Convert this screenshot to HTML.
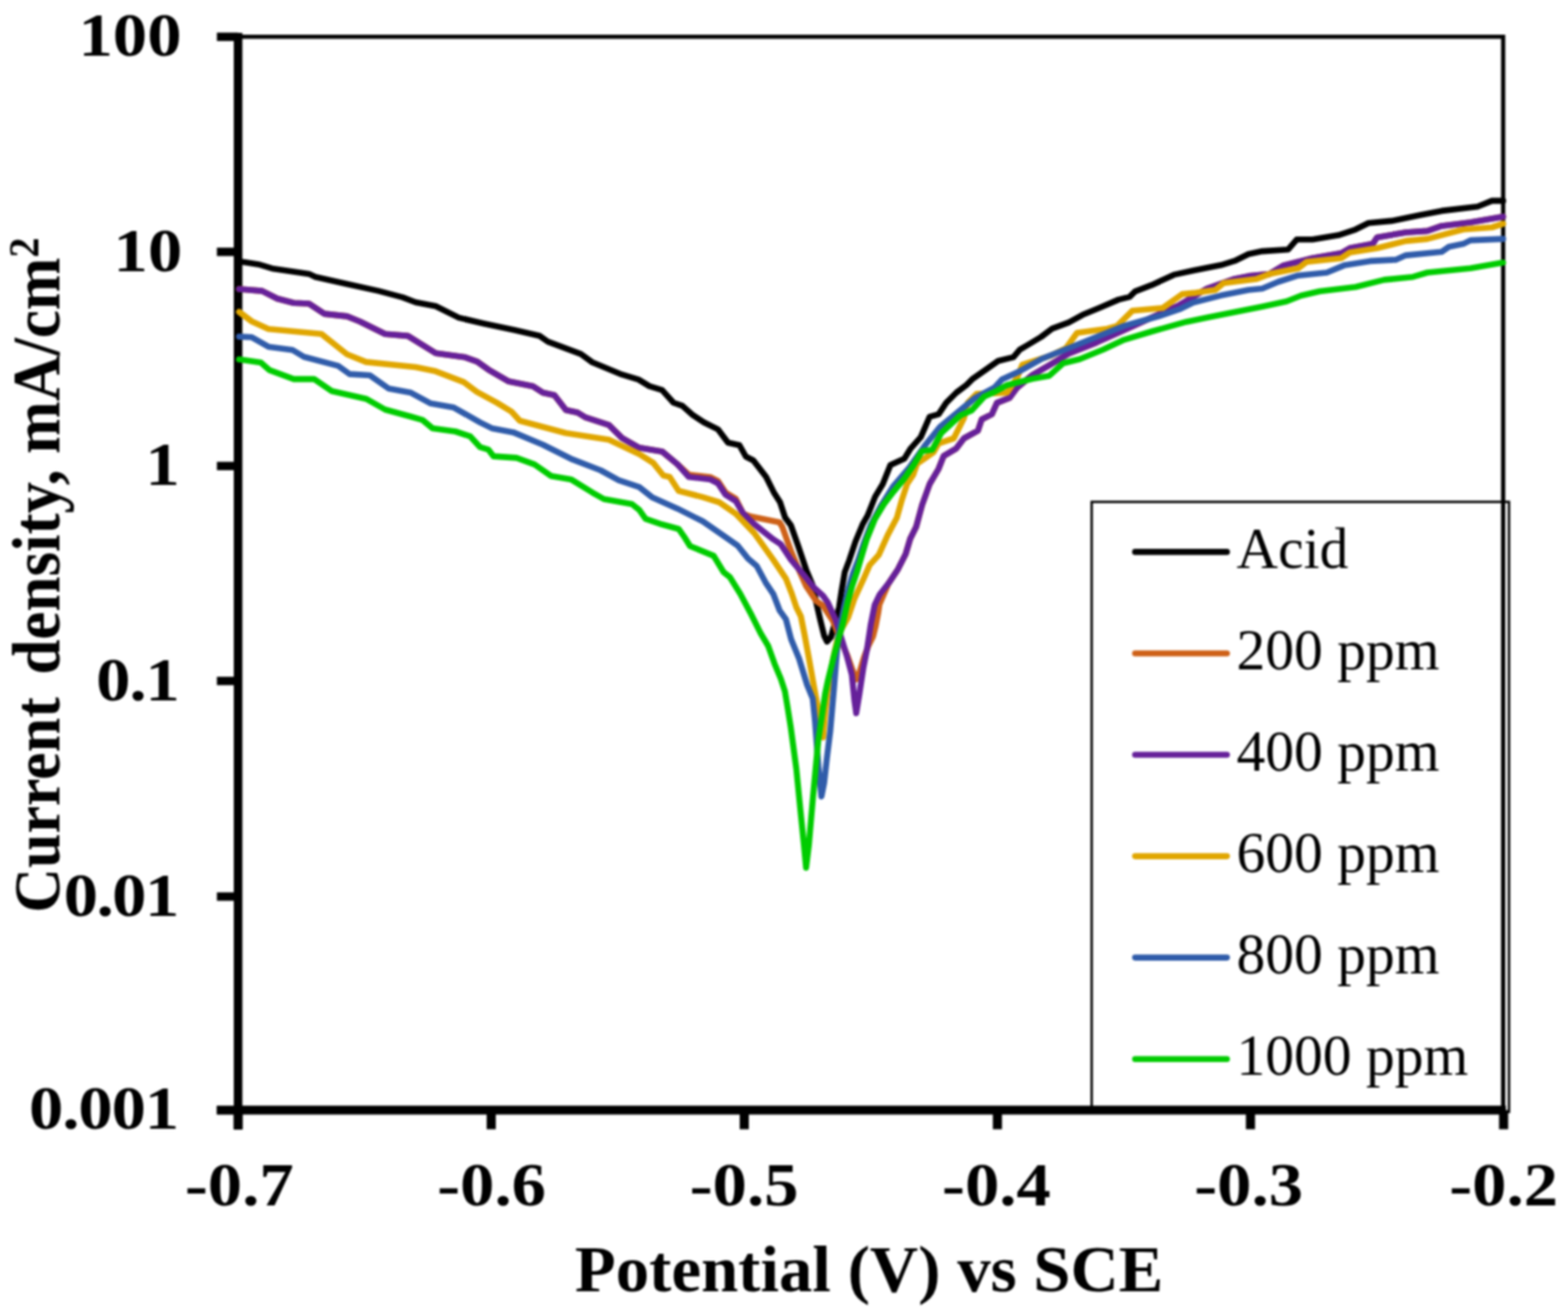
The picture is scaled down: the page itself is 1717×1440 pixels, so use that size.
<!DOCTYPE html><html><head><meta charset="utf-8"><title>Current density vs Potential</title><style>html,body{margin:0;padding:0;background:#fff;}svg{display:block;filter:blur(0.8px);}</style></head><body>
<svg width="1717" height="1440" viewBox="0 0 1717 1440">
<rect x="0" y="0" width="1717" height="1440" fill="#fff"/>
<path d="M260.7,40.3 H1646.0 V1215.6" fill="none" stroke="#000" stroke-width="4.6"/>
<line x1="260.7" y1="36" x2="260.7" y2="1237" stroke="#000" stroke-width="9.4"/>
<line x1="237.5" y1="1215.6" x2="1649" y2="1215.6" stroke="#000" stroke-width="9.6"/>
<line x1="237.5" y1="40.3" x2="260.7" y2="40.3" stroke="#000" stroke-width="9.2"/>
<line x1="237.5" y1="275.8" x2="260.7" y2="275.8" stroke="#000" stroke-width="9.2"/>
<line x1="237.5" y1="510.3" x2="260.7" y2="510.3" stroke="#000" stroke-width="9.2"/>
<line x1="237.5" y1="745.7" x2="260.7" y2="745.7" stroke="#000" stroke-width="9.2"/>
<line x1="237.5" y1="981.8" x2="260.7" y2="981.8" stroke="#000" stroke-width="9.2"/>
<line x1="237.5" y1="1215.6" x2="260.7" y2="1215.6" stroke="#000" stroke-width="9.2"/>
<line x1="260.7" y1="1215.6" x2="260.7" y2="1236.6" stroke="#000" stroke-width="10"/>
<line x1="537.9" y1="1215.6" x2="537.9" y2="1236.6" stroke="#000" stroke-width="10"/>
<line x1="815.0" y1="1215.6" x2="815.0" y2="1236.6" stroke="#000" stroke-width="10"/>
<line x1="1092.2" y1="1215.6" x2="1092.2" y2="1236.6" stroke="#000" stroke-width="10"/>
<line x1="1369.3" y1="1215.6" x2="1369.3" y2="1236.6" stroke="#000" stroke-width="10"/>
<line x1="1646.5" y1="1215.6" x2="1646.5" y2="1236.6" stroke="#000" stroke-width="10"/>
<g fill="none" stroke-linejoin="round" stroke-linecap="round">
<polyline stroke="#000000" stroke-width="6.6" points="261.8,286.0 265.4,286.7 282.8,289.4 299.4,294.3 338.3,299.9 345.3,303.3 380.0,311.0 414.7,318.6 441.0,325.6 455.0,331.0 477.1,335.3 502.4,347.9 529.4,354.2 563.8,361.5 590.8,367.8 599.9,374.1 636.0,387.6 648.6,396.7 681.1,410.2 699.2,415.6 711.1,422.9 725.0,427.1 737.5,441.0 747.2,444.4 758.3,454.2 770.8,462.5 786.1,470.1 797.2,484.7 809.7,487.5 816.7,500.0 825.0,504.2 838.9,522.2 847.2,538.9 854.2,550.0 859.7,566.7 866.1,575.3 874.4,598.9 882.8,623.9 889.7,640.6 893.9,660.0 898.0,678.0 902.5,696.3 905.6,702.5 910.0,697.5 913.8,683.8 918.8,665.0 921.7,646.1 925.0,626.7 930.0,613.3 936.7,593.3 945.0,573.3 950.0,564.7 958.3,543.9 966.7,530.0 975.0,509.2 990.3,502.2 997.2,491.1 1008.3,478.6 1018.0,456.4 1027.8,453.6 1036.1,441.1 1047.2,430.0 1058.3,421.7 1065.3,414.7 1079.2,405.0 1093.0,395.3 1109.7,391.1 1116.7,382.8 1125.0,378.0 1140.0,369.0 1152.1,359.9 1170.3,353.1 1185.4,344.8 1203.6,337.2 1224.8,328.1 1236.9,325.1 1243.0,319.1 1261.1,312.2 1285.4,300.9 1306.6,296.3 1321.7,293.3 1336.9,290.3 1352.0,285.7 1367.1,278.2 1382.3,275.1 1410.4,273.3 1419.9,262.3 1437.2,262.3 1465.5,257.6 1484.4,251.3 1498.5,244.3 1523.7,241.9 1555.1,235.6 1578.7,230.9 1618.0,226.2 1633.7,219.9 1646.0,219.9"/>
<polyline stroke="#CE6118" stroke-width="6.6" points="261.8,316.5 287.0,318.6 303.6,327.0 321.7,331.8 338.3,332.5 355.0,343.6 380.0,346.4 393.9,352.0 421.7,365.8 446.7,367.9 477.1,386.7 509.6,391.3 522.2,395.8 534.9,404.8 556.5,417.4 583.6,422.9 594.5,430.1 607.1,432.8 619.7,449.0 632.4,451.7 641.4,457.2 666.7,465.3 681.1,479.7 700.0,490.3 725.0,494.4 741.7,508.3 754.2,519.7 777.8,522.5 786.1,526.7 794.4,539.2 805.6,546.1 813.9,562.5 821.7,565.6 853.6,572.0 856.5,576.7 866.5,604.4 876.0,626.7 882.8,641.9 893.9,658.3 901.0,663.0 912.0,680.0 920.0,700.0 928.0,718.0 934.0,735.0 937.6,744.0 941.0,737.0 946.0,720.0 951.0,707.0 956.0,697.0 959.0,685.0 961.5,672.0 963.0,662.0 973.3,638.3 983.3,623.3 991.7,606.7 996.7,590.0 1003.3,576.7 1009.7,553.0 1018.0,530.0 1027.8,513.3 1033.3,499.4 1047.2,491.1 1055.6,480.0 1070.8,471.7 1075.0,459.2 1086.1,453.6 1091.7,441.1 1105.6,435.6 1113.9,424.4 1130.6,410.6 1150.0,399.4 1170.3,387.2 1200.6,375.1 1230.9,361.5 1261.1,347.8 1291.4,334.2 1321.7,316.0 1352.0,305.4 1367.1,302.4 1390.0,300.1 1405.7,290.6 1437.2,282.8 1468.6,277.3 1478.1,271.8 1503.2,267.1 1507.9,260.0 1539.4,254.5 1563.0,252.9 1578.7,247.4 1610.2,243.5 1646.0,237.2"/>
<polyline stroke="#66209A" stroke-width="6.6" points="261.8,316.5 287.0,318.6 303.6,327.0 321.7,331.8 338.3,332.5 355.0,343.6 380.0,346.4 393.9,352.0 421.7,365.8 446.7,367.9 477.1,386.7 509.6,391.3 522.2,395.8 534.9,404.8 556.5,417.4 583.6,422.9 594.5,430.1 607.1,432.8 619.7,449.0 632.4,451.7 641.4,457.2 666.7,465.3 681.1,479.7 700.0,490.3 725.0,494.4 741.7,508.3 754.2,522.2 777.8,525.0 786.1,529.2 794.4,541.7 805.6,548.6 813.9,562.5 825.8,573.9 846.7,590.6 855.0,596.1 866.1,612.8 880.0,629.4 891.1,643.3 901.3,652.5 906.4,659.7 914.7,677.8 921.7,700.0 927.2,718.0 932.8,738.9 935.6,766.7 937.6,781.0 941.1,759.7 945.3,731.9 949.4,711.0 953.6,683.3 957.8,662.5 963.3,651.0 973.3,638.3 983.3,623.3 991.7,606.7 996.7,590.0 1003.3,576.7 1009.7,553.0 1018.0,530.0 1027.8,513.3 1033.3,499.4 1047.2,491.1 1055.6,480.0 1070.8,471.7 1075.0,459.2 1086.1,453.6 1091.7,441.1 1105.6,435.6 1113.9,424.4 1130.6,410.6 1150.0,399.4 1170.3,387.2 1200.6,375.1 1230.9,361.5 1261.1,347.8 1291.4,334.2 1321.7,316.0 1352.0,305.4 1367.1,302.4 1390.0,300.1 1405.7,290.6 1437.2,282.8 1468.6,277.3 1478.1,271.8 1503.2,267.1 1507.9,260.0 1539.4,254.5 1563.0,252.9 1578.7,247.4 1610.2,243.5 1646.0,237.2"/>
<polyline stroke="#E0A600" stroke-width="6.6" points="261.8,341.5 275.8,352.0 293.9,360.3 352.2,365.8 380.0,388.0 400.8,396.4 455.0,402.0 477.1,406.6 507.8,418.3 522.2,429.2 543.9,440.9 560.1,450.8 569.2,460.8 619.7,474.3 666.7,481.5 700.0,497.2 715.3,506.9 726.4,520.8 733.3,522.2 743.1,537.5 769.4,544.4 787.5,550.0 805.6,562.5 825.8,583.6 846.7,612.8 860.6,633.6 867.0,650.0 872.0,665.0 877.0,675.0 881.0,695.0 886.0,722.0 891.0,750.0 895.0,772.0 898.0,795.0 901.3,807.5 903.6,780.0 906.0,760.0 909.0,740.0 912.5,720.0 917.0,700.0 922.0,688.0 928.6,676.4 935.6,655.6 945.3,634.7 952.2,618.9 962.2,607.8 972.2,585.6 982.2,566.7 987.8,546.7 993.3,530.0 1000.0,520.0 1004.2,507.8 1022.2,495.3 1027.8,485.6 1044.4,480.0 1055.6,457.8 1059.7,441.1 1069.4,431.4 1102.8,430.0 1113.9,413.3 1119.4,399.4 1150.0,389.7 1167.3,381.1 1179.4,364.5 1212.7,359.9 1223.3,356.9 1239.9,340.3 1273.3,337.2 1294.5,322.1 1309.6,320.6 1330.8,317.5 1339.9,310.0 1376.2,305.4 1390.0,300.1 1421.5,293.8 1430.9,286.7 1468.6,282.8 1478.1,276.5 1507.9,271.8 1539.4,263.9 1563.0,261.6 1602.3,251.3 1633.7,249.0 1646.0,245.0"/>
<polyline stroke="#305CAA" stroke-width="6.6" points="261.8,368.6 275.8,369.3 293.9,379.7 320.3,383.2 332.8,390.8 370.3,400.6 382.8,409.6 405.0,411.0 425.8,425.6 450.0,430.1 471.7,441.8 497.0,446.3 525.8,462.6 538.5,468.9 562.0,473.4 594.5,487.0 612.5,496.0 627.0,503.2 657.7,515.0 677.5,525.8 700.0,533.3 713.9,544.4 741.7,556.9 769.4,570.8 793.9,587.8 807.8,597.5 818.9,611.4 828.6,619.7 838.3,637.8 846.7,650.3 853.6,668.3 860.6,678.1 866.3,700.0 875.0,721.3 883.8,750.0 890.0,765.0 892.5,790.0 896.4,841.7 899.5,872.2 902.5,857.0 905.5,830.0 909.2,800.0 913.3,752.8 915.5,725.0 918.0,697.0 920.5,683.0 924.5,664.0 929.0,645.0 934.0,628.0 939.5,614.0 945.5,596.0 953.5,575.0 964.0,555.0 977.8,533.0 995.8,512.0 1012.5,488.3 1029.2,467.5 1052.8,448.1 1068.0,435.6 1088.9,424.4 1097.2,415.4 1116.7,406.4 1140.0,393.3 1162.7,384.2 1200.6,369.0 1230.9,356.9 1268.7,346.3 1291.4,338.7 1306.6,331.2 1336.9,323.6 1367.1,317.5 1382.3,316.0 1400.0,308.5 1421.5,301.7 1452.9,298.5 1471.8,290.6 1500.1,285.9 1528.4,284.4 1539.4,279.6 1578.7,275.7 1586.6,270.2 1602.3,267.1 1610.2,263.1 1646.0,261.6"/>
<polyline stroke="#00CC00" stroke-width="6.6" points="261.8,393.6 285.6,397.0 295.3,405.4 321.7,415.1 343.9,415.1 363.3,428.3 400.8,436.7 421.7,448.5 450.0,456.3 462.6,459.9 473.5,468.9 498.8,472.5 515.0,477.9 525.8,489.7 534.9,492.4 540.3,499.6 565.6,501.4 585.4,508.6 603.5,521.3 625.2,524.9 648.6,539.3 661.3,546.5 692.0,552.0 700.0,558.3 706.9,568.1 725.0,574.3 743.1,579.2 750.0,588.9 755.6,598.0 781.4,608.6 792.5,626.7 799.4,632.2 810.6,650.3 821.7,671.1 832.8,693.3 841.1,707.2 848.1,726.7 855.0,743.3 859.5,757.0 862.5,775.0 865.8,795.8 872.0,841.7 876.5,887.5 880.4,925.7 882.7,950.2 885.7,925.7 890.3,872.2 896.0,811.0 900.0,784.0 903.5,760.0 906.3,746.3 914.0,715.0 919.0,697.2 923.0,683.0 928.0,660.0 933.0,642.0 938.5,626.0 942.2,613.3 948.9,591.1 957.8,568.9 967.8,552.2 978.9,537.8 990.0,524.4 1000.0,510.0 1009.7,493.9 1020.8,492.5 1030.6,474.4 1051.4,455.0 1063.9,449.4 1077.8,434.2 1088.9,429.3 1102.8,421.7 1130.6,414.7 1149.1,411.4 1164.2,397.8 1182.4,393.3 1208.1,382.7 1230.9,372.1 1261.1,363.0 1299.0,352.4 1321.7,347.8 1352.0,341.8 1382.3,335.7 1408.9,330.0 1424.6,323.7 1445.0,319.0 1484.4,314.2 1515.8,306.4 1547.3,303.2 1563.0,298.5 1610.2,293.8 1646.0,287.5"/>
</g>
<rect x="1195.4" y="549.6" width="457" height="668" fill="none" stroke="#000" stroke-width="2.6"/>
<line x1="1243" y1="604.4" x2="1343.5" y2="604.4" stroke="#000000" stroke-width="6.6" stroke-linecap="round"/>
<text x="1354" y="622.1" font-family="Liberation Serif, serif" font-size="63" fill="#000">Acid</text>
<line x1="1243" y1="715.5" x2="1343.5" y2="715.5" stroke="#CE6118" stroke-width="6.6" stroke-linecap="round"/>
<text x="1354" y="733.2" font-family="Liberation Serif, serif" font-size="63" fill="#000">200 ppm</text>
<line x1="1243" y1="826.5" x2="1343.5" y2="826.5" stroke="#66209A" stroke-width="6.6" stroke-linecap="round"/>
<text x="1354" y="844.2" font-family="Liberation Serif, serif" font-size="63" fill="#000">400 ppm</text>
<line x1="1243" y1="937.6" x2="1343.5" y2="937.6" stroke="#E0A600" stroke-width="6.6" stroke-linecap="round"/>
<text x="1354" y="955.3" font-family="Liberation Serif, serif" font-size="63" fill="#000">600 ppm</text>
<line x1="1243" y1="1048.6" x2="1343.5" y2="1048.6" stroke="#305CAA" stroke-width="6.6" stroke-linecap="round"/>
<text x="1354" y="1066.3" font-family="Liberation Serif, serif" font-size="63" fill="#000">800 ppm</text>
<line x1="1243" y1="1159.7" x2="1343.5" y2="1159.7" stroke="#00CC00" stroke-width="6.6" stroke-linecap="round"/>
<text x="1354" y="1177.4" font-family="Liberation Serif, serif" font-size="63" fill="#000">1000 ppm</text>
<text transform="translate(198.8,61.1) scale(1.11,1)" text-anchor="end" font-family="Liberation Serif, serif" font-weight="bold" font-size="67.8">100</text>
<text transform="translate(199.6,296.6) scale(1.11,1)" text-anchor="end" font-family="Liberation Serif, serif" font-weight="bold" font-size="67.8">10</text>
<text transform="translate(197.0,531.1) scale(1.11,1)" text-anchor="end" font-family="Liberation Serif, serif" font-weight="bold" font-size="67.8">1</text>
<text transform="translate(196.9,766.5) scale(1.11,1)" text-anchor="end" font-family="Liberation Serif, serif" font-weight="bold" font-size="67.8" textLength="82.6" lengthAdjust="spacing">0.1</text>
<text transform="translate(196.3,1002.6) scale(1.11,1)" text-anchor="end" font-family="Liberation Serif, serif" font-weight="bold" font-size="67.8" textLength="114" lengthAdjust="spacing">0.01</text>
<text transform="translate(196.2,1236.4) scale(1.11,1)" text-anchor="end" font-family="Liberation Serif, serif" font-weight="bold" font-size="67.8" textLength="148.2" lengthAdjust="spacing">0.001</text>
<text transform="translate(262.00,1320.3) scale(1.11,1)" text-anchor="middle" font-family="Liberation Serif, serif" font-weight="bold" font-size="67.8">-0.7</text>
<text transform="translate(538.30,1320.3) scale(1.11,1)" text-anchor="middle" font-family="Liberation Serif, serif" font-weight="bold" font-size="67.8">-0.6</text>
<text transform="translate(814.75,1320.3) scale(1.11,1)" text-anchor="middle" font-family="Liberation Serif, serif" font-weight="bold" font-size="67.8">-0.5</text>
<text transform="translate(1091.15,1320.3) scale(1.11,1)" text-anchor="middle" font-family="Liberation Serif, serif" font-weight="bold" font-size="67.8">-0.4</text>
<text transform="translate(1367.25,1320.3) scale(1.11,1)" text-anchor="middle" font-family="Liberation Serif, serif" font-weight="bold" font-size="67.8">-0.3</text>
<text transform="translate(1646.50,1320.3) scale(1.11,1)" text-anchor="middle" font-family="Liberation Serif, serif" font-weight="bold" font-size="67.8">-0.2</text>
<text transform="translate(629.5,1414) scale(1.028,1)" font-family="Liberation Serif, serif" font-weight="bold" font-size="71.2">Potential (V) vs SCE</text>
<text transform="translate(65,999.5) rotate(-90) scale(1,1.066)" font-family="Liberation Serif, serif" font-weight="bold" font-size="67.8">Current<tspan dx="7.4" font-size="69.1"> density, mA/cm</tspan><tspan font-size="44" dy="-21.9">2</tspan></text>
</svg></body></html>
